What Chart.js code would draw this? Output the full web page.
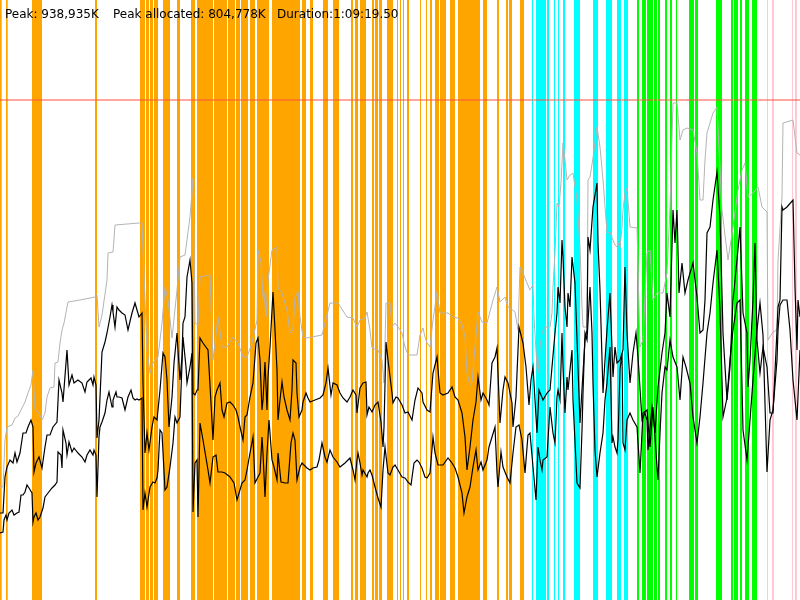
<!DOCTYPE html>
<html><head><meta charset="utf-8">
<script src="https://cdn.jsdelivr.net/npm/chart.js@4"></script>
<style>html,body{margin:0;padding:0;background:#fff}canvas{display:block}</style>
</head><body>
<canvas id="c" width="800" height="600"></canvas>
<script>
// x: sample time index (0..800), y: heap level row (0 = top, 600 = bottom, reversed axis)
const headerLabels = ["Peak: 938,935K", "Peak allocated: 804,778K", "Duration:1:09:19.50"];
const limitLevel = [[0,100],[800,100]];
const heapSize = [[0,487],[3,487],[5,440],[7,427],[12,425],[15,418],[18,416],[22,408],[25,402],[28,393],[31,385],[33,370],[35,410],[39,413],[42,420],[45,413],[47,397],[50,388],[54,387],[55,363],[58,362],[60,343],[62,330],[64,323],[68,302],[80,300],[95,297],[97,295],[99,327],[102,315],[107,280],[108,253],[113,252],[115,225],[139,223],[142,223],[147,350],[150,373],[153,363],[158,357],[162,323],[165,287],[168,300],[172,338],[177,290],[180,257],[185,255],[190,217],[193,178],[195,323],[198,325],[200,277],[210,275],[213,360],[218,317],[222,347],[227,347],[233,337],[238,343],[243,357],[247,357],[252,343],[257,320],[258,250],[261,262],[263,297],[264,292],[266,317],[268,280],[272,250],[277,247],[278,288],[282,293],[287,310],[290,333],[293,330],[295,297],[298,292],[300,317],[303,337],[307,338],[322,335],[325,323],[330,303],[338,303],[347,317],[353,318],[357,327],[360,320],[365,318],[367,312],[370,330],[372,348],[378,350],[382,360],[384,383],[386,303],[390,303],[392,327],[395,323],[398,327],[402,333],[405,347],[408,355],[417,355],[420,335],[423,328],[425,337],[427,343],[430,347],[433,320],[437,292],[440,313],[448,313],[453,317],[458,318],[462,325],[465,337],[467,373],[470,385],[472,382],[475,347],[478,312],[482,322],[487,323],[493,300],[497,287],[500,302],[505,297],[508,307],[510,308],[515,312],[518,330],[520,267],[523,273],[527,283],[530,290],[533,285],[534,317],[537,367],[538,373],[540,347],[542,333],[545,327],[550,327],[552,313],[553,287],[555,253],[557,203],[559,207],[561,183],[563,143],[565,160],[567,180],[570,175],[573,173],[577,200],[580,247],[582,307],[583,327],[587,327],[588,180],[590,177],[593,158],[597,127],[600,147],[603,180],[607,233],[610,232],[613,240],[615,245],[617,247],[618,243],[620,248],[622,227],[623,210],[625,193],[627,188],[630,227],[637,228],[640,347],[643,340],[647,253],[650,250],[653,300],[657,293],[663,293],[667,273],[670,207],[673,103],[677,103],[680,140],[683,130],[687,128],[693,130],[697,153],[700,200],[703,200],[705,160],[707,133],[713,113],[717,107],[722,210],[728,260],[733,227],[738,190],[742,170],[745,163],[748,197],[753,193],[758,187],[762,207],[767,212],[768,340],[773,332],[777,330],[778,260],[782,197],[783,123],[793,120],[797,153],[800,155]];
const usedBefore = [[0,513],[3,513],[5,477],[7,467],[10,460],[13,463],[15,453],[17,462],[20,453],[23,433],[26,433],[28,427],[31,420],[33,427],[34,472],[36,463],[39,457],[42,468],[45,447],[47,435],[50,435],[53,427],[57,422],[59,380],[62,393],[63,402],[67,350],[69,385],[72,375],[74,383],[78,380],[82,383],[85,392],[87,382],[91,378],[93,385],[94,377],[96,385],[97,438],[99,420],[102,352],[105,342],[107,333],[110,317],[112,305],[113,312],[115,327],[117,307],[119,310],[122,313],[125,315],[128,330],[132,313],[135,303],[137,310],[139,317],[142,313],[143,383],[145,453],[147,433],[149,450],[152,427],[154,417],[157,420],[160,390],[163,353],[165,357],[167,380],[169,427],[172,397],[174,363],[177,333],[178,350],[180,380],[182,357],[183,323],[185,317],[187,277],[190,260],[192,283],[193,393],[195,395],[197,390],[198,390],[200,338],[203,343],[208,350],[211,403],[213,440],[215,397],[217,390],[220,383],[222,410],[224,417],[227,403],[230,402],[233,405],[236,410],[238,417],[240,427],[243,440],[245,417],[247,415],[250,397],[253,383],[256,343],[258,338],[260,360],[262,410],[263,400],[265,362],[267,410],[268,377],[270,347],[273,292],[275,330],[277,370],[278,420],[280,400],[282,382],[284,397],[287,410],[290,420],[292,390],[293,360],[296,363],[297,393],[299,417],[302,410],[303,402],[306,393],[308,398],[310,402],[315,400],[320,398],[323,395],[326,383],[328,368],[331,395],[333,383],[337,385],[340,393],[343,398],[347,402],[350,397],[353,390],[356,395],[357,413],[360,388],[363,383],[366,382],[367,415],[369,407],[372,412],[375,405],[378,402],[381,422],[383,447],[384,427],[386,342],[388,360],[392,393],[393,403],[396,397],[398,398],[402,405],[405,413],[408,412],[412,420],[415,400],[418,388],[422,393],[423,402],[427,410],[430,412],[433,373],[437,357],[440,393],[443,395],[448,393],[452,387],[455,397],[458,400],[462,413],[465,437],[467,470],[470,447],[473,420],[476,402],[478,377],[481,400],[483,393],[487,400],[489,405],[492,363],[495,357],[497,348],[500,423],[503,390],[505,377],[508,383],[512,403],[513,427],[516,397],[519,327],[523,343],[526,367],[529,405],[531,380],[533,367],[537,433],[539,390],[543,400],[547,393],[550,390],[552,367],[555,333],[557,313],[558,287],[560,303],[562,240],[563,257],[565,307],[567,327],[568,293],[570,307],[572,257],[575,283],[580,423],[583,373],[585,340],[587,330],[588,237],[590,250],[593,207],[597,183],[598,243],[600,290],[603,393],[605,360],[607,330],[610,293],[613,377],[615,347],[617,363],[620,360],[623,350],[625,267],[627,333],[630,383],[633,353],[636,333],[638,357],[642,420],[645,413],[647,420],[648,450],[652,407],[655,433],[658,387],[662,353],[665,333],[667,293],[670,317],[673,210],[675,243],[677,210],[679,293],[682,263],[685,293],[688,280],[693,263],[697,297],[700,333],[703,330],[705,300],[707,233],[710,227],[713,200],[717,172],[720,217],[723,333],[727,400],[730,367],[733,300],[737,260],[740,227],[743,313],[747,333],[748,387],[750,360],[753,300],[755,243],[757,340],[760,373],[763,347],[767,367],[770,413],[773,413],[777,330],[778,307],[780,300],[782,207],[783,210],[787,207],[793,200],[795,287],[797,350],[798,300],[800,317]];
const usedAfter = [[0,533],[3,532],[4,520],[6,515],[7,520],[9,513],[12,510],[14,515],[17,513],[19,512],[21,495],[23,495],[25,492],[27,485],[29,488],[32,493],[33,522],[34,517],[36,513],[38,520],[40,517],[43,508],[45,497],[48,493],[52,488],[55,485],[57,482],[58,452],[61,455],[62,468],[63,430],[66,443],[67,455],[69,442],[72,452],[74,448],[78,453],[82,457],[85,462],[87,455],[90,450],[93,455],[94,450],[96,455],[97,497],[99,437],[100,427],[102,422],[105,413],[107,400],[109,392],[112,407],[113,400],[116,392],[117,397],[119,397],[122,398],[125,410],[128,397],[131,390],[133,398],[135,400],[137,399],[139,400],[142,398],[143,510],[145,493],[147,507],[150,487],[153,482],[155,483],[157,478],[158,470],[160,430],[162,433],[165,490],[167,487],[170,467],[173,443],[175,417],[177,423],[180,417],[183,337],[186,367],[187,383],[190,367],[192,353],[193,512],[195,463],[197,460],[198,517],[200,423],[203,440],[208,470],[210,483],[213,457],[216,455],[218,472],[222,472],[225,473],[230,477],[234,483],[237,500],[242,483],[245,480],[247,470],[250,453],[253,437],[255,483],[258,477],[260,473],[262,437],[263,453],[265,497],[267,453],[269,420],[272,460],[274,467],[277,480],[278,453],[281,482],[285,483],[288,483],[291,443],[293,433],[295,440],[297,480],[300,467],[302,463],[307,468],[310,470],[313,468],[317,467],[319,460],[322,443],[325,457],[327,462],[330,450],[333,457],[337,462],[340,467],[345,463],[350,458],[353,470],[355,480],[357,460],[358,453],[360,463],[362,475],[363,470],[367,477],[368,473],[370,470],[372,475],[375,487],[378,498],[381,507],[383,470],[385,447],[388,473],[390,475],[393,467],[395,465],[398,470],[402,477],[405,478],[408,482],[411,485],[414,463],[417,460],[419,462],[422,468],[425,477],[427,478],[430,473],[433,437],[435,453],[438,465],[443,465],[448,458],[452,463],[455,468],[458,477],[462,493],[464,513],[467,497],[470,487],[473,467],[476,450],[478,470],[481,462],[483,470],[487,460],[489,447],[492,437],[495,427],[497,473],[498,487],[501,452],[503,467],[507,477],[510,483],[513,453],[516,427],[519,425],[522,440],[525,473],[528,435],[530,433],[533,467],[536,500],[538,447],[540,460],[542,470],[543,460],[547,457],[550,407],[553,433],[555,443],[557,397],[558,390],[560,400],[562,333],[563,367],[565,413],[567,377],[568,390],[572,350],[573,400],[577,483],[580,488],[582,430],[583,393],[585,333],[587,340],[590,287],[592,333],[593,383],[595,450],[597,477],[600,453],[603,433],[605,400],[607,383],[610,347],[612,443],[613,437],[615,447],[617,453],[618,440],[620,370],[622,353],[623,443],[625,450],[627,420],[630,413],[633,420],[637,427],[640,473],[643,413],[647,410],[650,447],[653,407],[657,467],[658,480],[660,433],[662,393],[665,367],[667,370],[670,340],[673,357],[677,367],[680,400],[683,357],[686,367],[690,383],[693,417],[697,443],[700,417],[703,383],[707,333],[710,313],[713,283],[717,250],[720,310],[723,417],[727,398],[730,360],[733,330],[737,303],[740,300],[743,430],[747,460],[750,420],[753,380],[757,330],[760,303],[763,335],[767,472],[770,420],[773,410],[777,360],[778,330],[780,305],[783,300],[787,300],[790,330],[793,380],[797,420],[800,350]];
const orangeBands = [[0,1.7],[6,7.7],[32,42],[95,97],[140,145],[146,149],[150,153],[154,158],[163,170],[177,180],[191,195],[197,213],[214,227],[228,235],[236,240],[241,248],[250,255],[257,269],[272,300],[302,306],[310,313],[323,328],[333,339],[351,353],[355,358],[360,366],[372,374],[375,378],[379,382],[387,393],[397,398],[400,401],[403,404],[407,409],[420,421],[426,427],[430,432],[435,439],[440,446],[450,455],[458,480],[483,487],[497,499],[506,508],[509,512],[520,524]];
const cyanBands = [[532,533],[536,546],[547,549],[554,555],[558,559],[563,565],[574,580],[593,598],[606,612],[617,621],[624,628]];
const greenBands = [[637,639],[642,646],[647,653],[654,657],[658,660],[665,667],[670,672],[676,677],[689,694],[695,698],[716,722],[731,733],[734,738],[740,742],[745,749],[752,757]];
const pinkBands = [[767,768],[772,774],[792,793],[795,797]];

const toXY = a => a.map(p => ({x: p[0], y: p[1]}));
const bandGroups = [
  {bands: orangeBands, color: '#FFA500'},
  {bands: cyanBands, color: '#00FFFF'},
  {bands: greenBands, color: '#00FF00'},
  {bands: pinkBands, color: '#FFC8D2'}
];

const bandPlugin = {
  id: 'bands',
  beforeDatasetsDraw(chart) {
    const {ctx, chartArea, scales} = chart;
    ctx.save();
    bandGroups.forEach(g => {
      ctx.fillStyle = g.color;
      g.bands.forEach(b => {
        const x0 = scales.x.getPixelForValue(b[0]);
        const x1 = scales.x.getPixelForValue(b[1]);
        ctx.fillRect(x0, chartArea.top, Math.max(1, x1 - x0), chartArea.bottom - chartArea.top);
      });
    });
    ctx.restore();
  },
  afterDraw(chart) {
    const ctx = chart.ctx;
    ctx.save();
    ctx.fillStyle = '#000';
    ctx.font = '12px "DejaVu Sans", sans-serif';
    ctx.textBaseline = 'alphabetic';
    const xs = [5, 113, 277];
    headerLabels.forEach((t, i) => ctx.fillText(t, xs[i], 18));
    ctx.restore();
  }
};

new Chart(document.getElementById('c'), {
  type: 'line',
  data: {
    datasets: [
      {data: toXY(limitLevel), borderColor: '#FF5040', borderWidth: 1, order: 4},
      {data: toXY(heapSize), borderColor: '#B4B4B4', borderWidth: 1, order: 3},
      {data: toXY(usedBefore), borderColor: '#000000', borderWidth: 1.2, order: 2},
      {data: toXY(usedAfter), borderColor: '#000000', borderWidth: 1.2, order: 1}
    ]
  },
  options: {
    responsive: false,
    animation: false,
    layout: {padding: 0},
    elements: {point: {radius: 0}, line: {tension: 0, fill: false}},
    plugins: {legend: {display: false}, tooltip: {enabled: false}, title: {display: false}},
    scales: {
      x: {type: 'linear', min: 0, max: 800, display: false},
      y: {type: 'linear', min: 0, max: 600, reverse: true, display: false}
    }
  },
  plugins: [bandPlugin]
});
</script>
</body></html>
